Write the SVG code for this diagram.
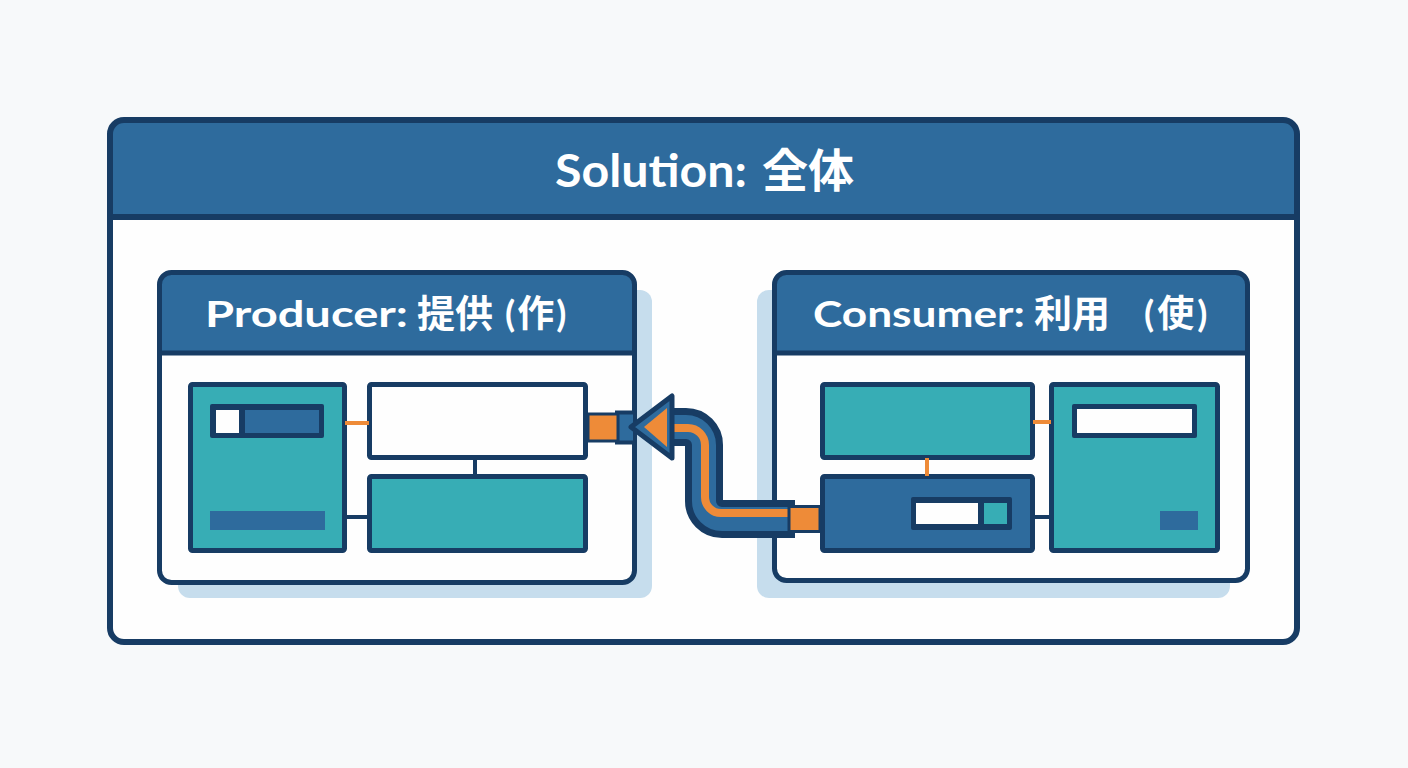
<svg xmlns="http://www.w3.org/2000/svg" width="1408" height="768" viewBox="0 0 1408 768">
<defs>
<style>
.nv{stroke:#173c64;}
.box{stroke:#173c64;stroke-width:5;stroke-linejoin:round;}
.teal{fill:#37adb5;}
.blue{fill:#2e6b9d;}
.wh{fill:#fefefe;}
.navyf{fill:#173c64;}
.org{fill:#ee8b38;}
.shadow{fill:#c6dded;}
.ttl{font-family:Lato,"Noto Sans","Noto Sans CJK JP",sans-serif;font-weight:700;fill:#ffffff;}
.ln{fill:none;stroke-width:4;}
</style>
</defs>
<rect width="1408" height="768" fill="#f7f9fa"/>

<g id="solution">
<rect x="110" y="120" width="1187" height="522" rx="14" class="wh"/>
<path d="M110 217 V134 A14 14 0 0 1 124 120 H1283 A14 14 0 0 1 1297 134 V217 Z" class="blue"/>
<rect x="110" y="120" width="1187" height="522" rx="14" fill="none" class="nv" stroke-width="6"/>
<line x1="110" y1="217" x2="1297" y2="217" class="nv" stroke-width="6"/>
<text y="187" class="ttl" font-size="46"><tspan x="555" textLength="192" lengthAdjust="spacingAndGlyphs">Solution:</tspan> <tspan x="762">全体</tspan></text>
</g>

<g id="producer">
<rect x="178" y="290" width="474" height="308" rx="12" class="shadow"/>
<rect x="159.5" y="272.5" width="475" height="310" rx="12" class="wh"/>
<path d="M159.5 353 V284.5 A12 12 0 0 1 171.5 272.5 H622.5 A12 12 0 0 1 634.5 284.5 V353 Z" class="blue"/>
<rect x="159.5" y="272.5" width="475" height="310" rx="12" fill="none" class="nv" stroke-width="5"/>
<line x1="159.5" y1="353" x2="634.5" y2="353" class="nv" stroke-width="5"/>
<text y="327" class="ttl" font-size="37"><tspan x="205" textLength="203" lengthAdjust="spacingAndGlyphs">Producer:</tspan> <tspan x="417" font-size="38">提供</tspan> <tspan x="505" letter-spacing="2">(作)</tspan></text>
<g id="producer-left">
<rect x="190.5" y="384.5" width="154" height="166" rx="2" class="teal box"/>
<rect x="210" y="404" width="114" height="34" rx="2" class="navyf"/>
<rect x="216" y="410" width="23" height="23" class="wh"/>
<rect x="245" y="410" width="74" height="23" class="blue"/>
<rect x="210" y="511" width="115" height="19" class="blue"/>
</g>
<rect id="producer-top" x="369.5" y="384.5" width="216" height="73" rx="2" class="wh box"/>
<rect id="producer-bottom" x="369.5" y="476.5" width="216" height="74" rx="2" class="teal box"/>
</g>

<g id="consumer">
<rect x="757" y="290" width="473" height="308" rx="12" class="shadow"/>
<rect x="774.5" y="272.5" width="473" height="308" rx="12" class="wh"/>
<path d="M774.5 353 V284.5 A12 12 0 0 1 786.5 272.5 H1235.5 A12 12 0 0 1 1247.5 284.5 V353 Z" class="blue"/>
<rect x="774.5" y="272.5" width="473" height="308" rx="12" fill="none" class="nv" stroke-width="5"/>
<line x1="774.5" y1="353" x2="1247.5" y2="353" class="nv" stroke-width="5"/>
<text y="327" class="ttl" font-size="37"><tspan x="813" textLength="212" lengthAdjust="spacingAndGlyphs">Consumer:</tspan> <tspan x="1034" font-size="38">利用</tspan> <tspan x="1144" letter-spacing="3">(使)</tspan></text>
<rect id="consumer-top" x="822.5" y="384.5" width="210" height="73" rx="2" class="teal box"/>
<g id="consumer-bottom">
<rect x="822.5" y="476.5" width="210" height="74" rx="2" class="blue box"/>
<rect x="911" y="497" width="101" height="33" rx="2" class="navyf"/>
<rect x="916" y="503" width="62" height="21" class="wh"/>
<rect x="984" y="503" width="23" height="21" class="teal"/>
</g>
<g id="consumer-right">
<rect x="1051.5" y="384.5" width="166" height="166" rx="2" class="teal box"/>
<rect x="1072" y="404" width="125" height="34" rx="2" class="navyf"/>
<rect x="1077" y="409" width="115" height="24" class="wh"/>
<rect x="1160" y="511" width="38" height="19" class="blue"/>
</g>
</g>

<g id="connectors">
<line x1="345" y1="423" x2="369" y2="423" class="ln" stroke="#ee8b38"/>
<line x1="475" y1="458" x2="475" y2="476" class="ln nv" stroke-width="5"/>
<line x1="345" y1="517" x2="369" y2="517" class="ln nv" stroke-width="5"/>
<line x1="1033" y1="422" x2="1051" y2="422" class="ln" stroke="#ee8b38"/>
<line x1="927" y1="458" x2="927" y2="476" class="ln" stroke="#ee8b38"/>
<line x1="1033" y1="517" x2="1051" y2="517" class="ln nv" stroke-width="5"/>

<g id="flow">
<rect x="617" y="412.5" width="18" height="30" class="blue nv" stroke-width="4"/>
<rect x="588" y="414" width="30" height="27" class="org nv" stroke-width="3"/>
<path d="M660 427 H686 A18 18 0 0 1 704 445 V501 A18 18 0 0 0 722 519 H795" fill="none" stroke="#173c64" stroke-width="38"/>
<path d="M660 427 H686 A18 18 0 0 1 704 445 V501 A18 18 0 0 0 722 519 H795" fill="none" stroke="#2e6b9d" stroke-width="24"/>
<path d="M660 428 H688 A17 17 0 0 1 705 445 V497 A16 16 0 0 0 721 513 H795" fill="none" stroke="#ee8b38" stroke-width="8"/>
<polygon points="631,427 672,396 672,458" class="blue nv" stroke-width="5" stroke-linejoin="round"/>
<polygon points="644,427 667,408 667,447" class="org"/>
<rect x="789" y="506.5" width="31" height="25" class="org nv" stroke-width="3"/>
</g>
</g>
</svg>
